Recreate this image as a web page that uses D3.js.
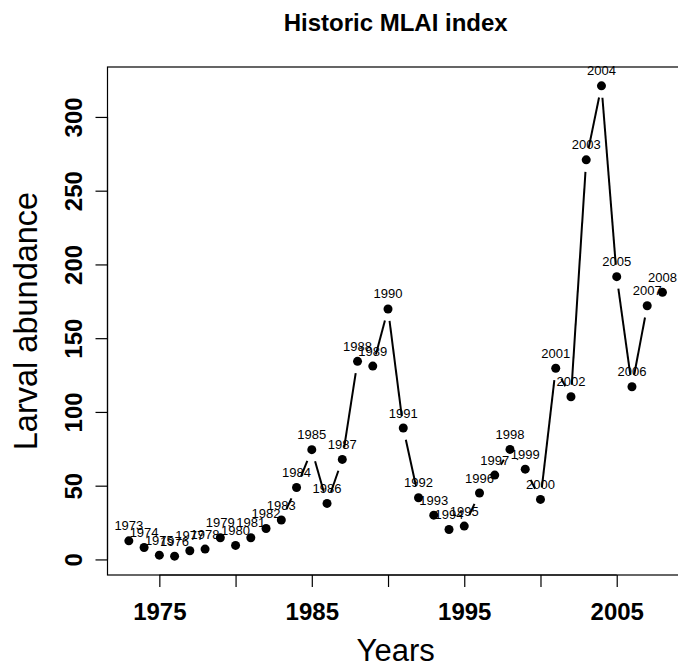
<!DOCTYPE html>
<html>
<head>
<meta charset="utf-8">
<script src="https://cdn.jsdelivr.net/npm/d3@7"></script>
<style>
  html, body { margin: 0; padding: 0; background: #fff; }
  svg { display: block; font-family: "Liberation Sans", Arial, sans-serif; }
</style>
</head>
<body>
<svg id="chart" width="678" height="668"></svg>
<script>
// ---- data ----
const years = [1973,1974,1975,1976,1977,1978,1979,1980,1981,1982,1983,1984,1985,1986,1987,1988,1989,1990,
               1991,1992,1993,1994,1995,1996,1997,1998,1999,2000,2001,2002,2003,2004,2005,2006,2007,2008];
const abundance = [12.6,8.1,2.9,2.2,5.9,7.0,14.7,9.5,14.7,21.0,26.7,48.8,74.4,38.0,67.8,134.3,131.1,169.8,
                   89.1,41.8,30.0,20.3,22.6,45.0,57.2,74.6,61.2,40.7,129.6,110.3,270.9,321.1,191.7,117.1,172.0,181.1];
const xTicks = [1975,1980,1985,1990,1995,2000,2005];
const xTickLabels = ["1975","","1985","","1995","","2005"];
const yTicks = [0,50,100,150,200,250,300];
const titleText = "Historic MLAI index";
const xTitle = "Years";
const yTitle = "Larval abundance";

// ---- layout ----
const svg = d3.select("#chart");
const plot = {left: 107.5, right: 683.8, top: 67, bottom: 575};

function expand(ext) { const r = ext[1] - ext[0]; return [ext[0] - 0.04 * r, ext[1] + 0.04 * r]; }

const x = d3.scaleLinear().domain(expand(d3.extent(years))).range([plot.left, plot.right]);
const y = d3.scaleLinear().domain(expand(d3.extent(abundance))).range([plot.bottom, plot.top]);

// box
svg.append("rect")
  .attr("x", plot.left).attr("y", plot.top)
  .attr("width", plot.right - plot.left).attr("height", plot.bottom - plot.top)
  .attr("fill", "none").attr("stroke", "#000").attr("stroke-width", 1.2);

// x axis
const xAxis = d3.axisBottom(x).tickValues(xTicks)
  .tickFormat((d, i) => xTickLabels[i]).tickSize(12).tickPadding(15);
const gx = svg.append("g").attr("transform", `translate(0,${plot.bottom})`).call(xAxis);
gx.select(".domain").attr("d", `M${x(xTicks[0])},0H${x(xTicks[xTicks.length-1])}`).attr("stroke-width", 1.2);
gx.selectAll(".tick line").attr("stroke-width", 1.2);
gx.selectAll(".tick text")
  .attr("font-family", "Liberation Sans, Arial, sans-serif")
  .attr("font-size", 24).attr("font-weight", "bold").attr("fill", "#000")
  .attr("dy", null).attr("y", 45);

// y axis
const yAxis = d3.axisLeft(y).tickValues(yTicks).tickSize(12).tickPadding(0);
const gy = svg.append("g").attr("transform", `translate(${plot.left},0)`).call(yAxis);
gy.select(".domain").attr("d", `M0,${y(yTicks[0])}V${y(yTicks[yTicks.length-1])}`).attr("stroke-width", 1.2);
gy.selectAll(".tick line").attr("stroke-width", 1.2);
gy.selectAll(".tick text")
  .attr("font-family", "Liberation Sans, Arial, sans-serif")
  .attr("font-size", 24).attr("font-weight", "bold").attr("fill", "#000")
  .attr("x", null).attr("dy", null)
  .attr("text-anchor", "middle")
  .attr("transform", "translate(-25.5,0) rotate(-90)");

// titles
svg.append("text").attr("x", (plot.left + plot.right) / 2).attr("y", 30.7)
  .attr("text-anchor", "middle").attr("font-size", 24).attr("font-weight", "bold").text(titleText);
svg.append("text").attr("x", (plot.left + plot.right) / 2).attr("y", 661)
  .attr("text-anchor", "middle").attr("font-size", 31).text(xTitle);
svg.append("text")
  .attr("transform", `translate(37,${(plot.top + plot.bottom) / 2}) rotate(-90)`)
  .attr("text-anchor", "middle").attr("font-size", 32.5).text(yTitle);

// data as pixel points
const pts = years.map((yr, i) => ({yr, v: abundance[i], px: x(yr), py: y(abundance[i])}));

// point labels
svg.append("g").selectAll("text").data(pts).join("text")
  .attr("x", d => d.px).attr("y", d => d.py - 10.5)
  .attr("text-anchor", "middle").attr("font-size", 13).attr("fill", "#000")
  .text(d => d.yr);

// line segments with gaps (type = "b")
const gap = 12;
const segs = [];
for (let i = 1; i < pts.length; i++) {
  const a = pts[i-1], b = pts[i];
  const dx = b.px - a.px, dy = b.py - a.py, len = Math.hypot(dx, dy);
  if (len > 2 * gap) {
    const f = gap / len;
    segs.push({x1: a.px + f*dx, y1: a.py + f*dy, x2: b.px - f*dx, y2: b.py - f*dy});
  }
}
svg.append("g").selectAll("line").data(segs).join("line")
  .attr("x1", d => d.x1).attr("y1", d => d.y1).attr("x2", d => d.x2).attr("y2", d => d.y2)
  .attr("stroke", "#000").attr("stroke-width", 2);

// points
svg.append("g").selectAll("circle").data(pts).join("circle")
  .attr("cx", d => d.px).attr("cy", d => d.py).attr("r", 4.5).attr("fill", "#000");
</script>
</body>
</html>
